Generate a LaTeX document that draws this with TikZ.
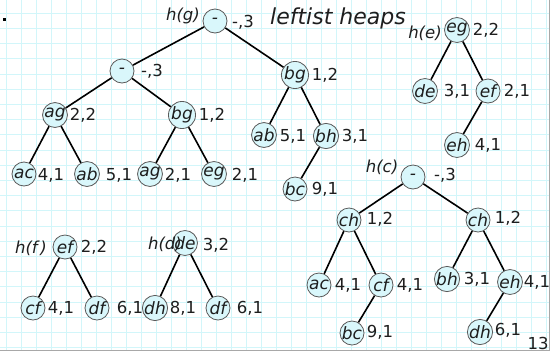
\documentclass[tikz,border=0pt]{standalone}
\usepackage{fontspec}
\newfontfamily\vfont{DejaVu Sans}
\definecolor{gridc}{HTML}{D2F6FA}
\definecolor{nodefill}{HTML}{D9F7FB}
\definecolor{nodeline}{HTML}{5A5A5A}
\definecolor{inkc}{HTML}{1E1E1E}
\definecolor{framec}{HTML}{A8A8A8}
\tikzset{
  hnode/.style={circle, draw=nodeline, line width=0.8pt, fill=nodefill,
    minimum size=24pt, inner sep=0pt, text=inkc,
    font=\vfont\itshape\fontsize{17}{17}\selectfont},
  numlab/.style={inner sep=0pt, text=inkc, font=\vfont\fontsize{16.5}{16.5}\selectfont},
  hlab/.style={inner sep=0pt, text=inkc, font=\vfont\itshape\fontsize{16.5}{16.5}\selectfont},
  edge/.style={line width=1.6pt, black},
  gridline/.style={gridc, line width=0.9pt}
}
\begin{document}
\begin{tikzpicture}[x=1pt,y=-1pt]
\useasboundingbox (0,0) rectangle (553,354);
\fill[white] (0,0) rectangle (553,354);
% background grid
\foreach \i in {0,...,36} \draw[gridline] ({6.7+15*\i},0) -- ({6.7+15*\i},350);
\foreach \j in {0,...,22} \draw[gridline] (0,{13.3+15.2*\j}) -- (550,{13.3+15.2*\j});
% frame on right and bottom
\draw[framec, line width=1.6pt] (549.5,0) -- (549.5,350.5) -- (0,350.5);
% small dot
\fill[black] (3,18) rectangle (5.5,20.5);
% title
\node[inner sep=0pt, text=inkc, font=\vfont\itshape\fontsize{22}{22}\selectfont] (title) at (338,18) {leftist heaps};

% ---------- heap h(g) ----------
\node[hnode] (g0) at (215,21) {-};
\node[hnode] (g1) at (122,71) {-};
\node[hnode] (g2) at (295,75) {bg};
\node[hnode] (g3) at (55,115) {ag};
\node[hnode] (g4) at (182,115) {bg};
\node[hnode] (g5) at (264,135) {ab};
\node[hnode] (g6) at (326,136) {bh};
\node[hnode] (g7) at (295,189) {bc};
\node[hnode] (g8) at (24,174) {ac};
\node[hnode] (g9) at (87,174) {ab};
\node[hnode] (g10) at (150,174) {ag};
\node[hnode] (g11) at (214,174) {eg};
\foreach \a/\b in {g0/g1,g0/g2,g1/g3,g1/g4,g3/g8,g3/g9,g4/g10,g4/g11,g2/g5,g2/g6,g6/g7}
  \draw[edge] (\a) -- (\b);
\node[hlab] (hg) at (183,16) {h(g)};
\node[numlab] (lg0) at (243,22) {-,3};
\node[numlab] (lg1) at (152,71) {-,3};
\node[numlab] (lg2) at (325,75) {1,2};
\node[numlab] (lg3) at (83,115) {2,2};
\node[numlab] (lg4) at (212,115) {1,2};
\node[numlab] (lg5) at (293,136) {5,1};
\node[numlab] (lg6) at (355,136) {3,1};
\node[numlab] (lg7) at (325,189) {9,1};
\node[numlab] (lg8) at (51,175) {4,1};
\node[numlab] (lg9) at (119,175) {5,1};
\node[numlab] (lg10) at (178,175) {2,1};
\node[numlab] (lg11) at (245,175) {2,1};

% ---------- heap h(e) ----------
\node[hnode] (e0) at (457,30) {eg};
\node[hnode] (e1) at (425,91) {de};
\node[hnode] (e2) at (488,91) {ef};
\node[hnode] (e3) at (457,145) {eh};
\foreach \a/\b in {e0/e1,e0/e2,e2/e3} \draw[edge] (\a) -- (\b);
\node[hlab] (he) at (425,33) {h(e)};
\node[numlab] (le0) at (486,30) {2,2};
\node[numlab] (le1) at (457,91) {3,1};
\node[numlab] (le2) at (517,91) {2,1};
\node[numlab] (le3) at (488,145) {4,1};

% ---------- heap h(c) ----------
\node[hnode] (c0) at (413,177) {-};
\node[hnode] (c1) at (349,220) {ch};
\node[hnode] (c2) at (478,220) {ch};
\node[hnode] (c3) at (319,285) {ac};
\node[hnode] (c4) at (381,285) {cf};
\node[hnode] (c5) at (447,279) {bh};
\node[hnode] (c6) at (510,282) {eh};
\node[hnode] (c7) at (352,333) {bc};
\node[hnode] (c8) at (480,332) {dh};
\foreach \a/\b in {c0/c1,c0/c2,c1/c3,c1/c4,c4/c7,c2/c5,c2/c6,c6/c8} \draw[edge] (\a) -- (\b);
\node[hlab] (hc) at (382,167) {h(c)};
\node[numlab] (lc0) at (445,175) {-,3};
\node[numlab] (lc1) at (380,219) {1,2};
\node[numlab] (lc2) at (508,218) {1,2};
\node[numlab] (lc3) at (348,285) {4,1};
\node[numlab] (lc4) at (410,285) {4,1};
\node[numlab] (lc5) at (477,279) {3,1};
\node[numlab] (lc6) at (537,282) {4,1};
\node[numlab] (lc7) at (380,332) {9,1};
\node[numlab] (lc8) at (508,330) {6,1};
\node[numlab] (pg) at (538,343) {13};

% ---------- heap h(f) ----------
\node[hnode] (f0) at (65,247) {ef};
\node[hnode] (f1) at (33,308) {cf};
\node[hnode] (f2) at (97,308) {df};
\foreach \a/\b in {f0/f1,f0/f2} \draw[edge] (\a) -- (\b);
\node[hlab] (hf) at (31,248) {h(f\,)};
\node[numlab] (lf0) at (94,247) {2,2};
\node[numlab] (lf1) at (61,308) {4,1};
\node[numlab] (lf2) at (130,308) {6,1};

% ---------- heap h(d) ----------
\node[hnode] (d0) at (185,243) {de};
\node[hnode] (d1) at (155,308) {dh};
\node[hnode] (d2) at (218,308) {df};
\foreach \a/\b in {d0/d1,d0/d2} \draw[edge] (\a) -- (\b);
\node[hlab] (hd) at (165,244) {h(d)};
\node[numlab] (ld0) at (216,245) {3,2};
\node[numlab] (ld1) at (183,308) {8,1};
\node[numlab] (ld2) at (250,308) {6,1};
\end{tikzpicture}
\end{document}
